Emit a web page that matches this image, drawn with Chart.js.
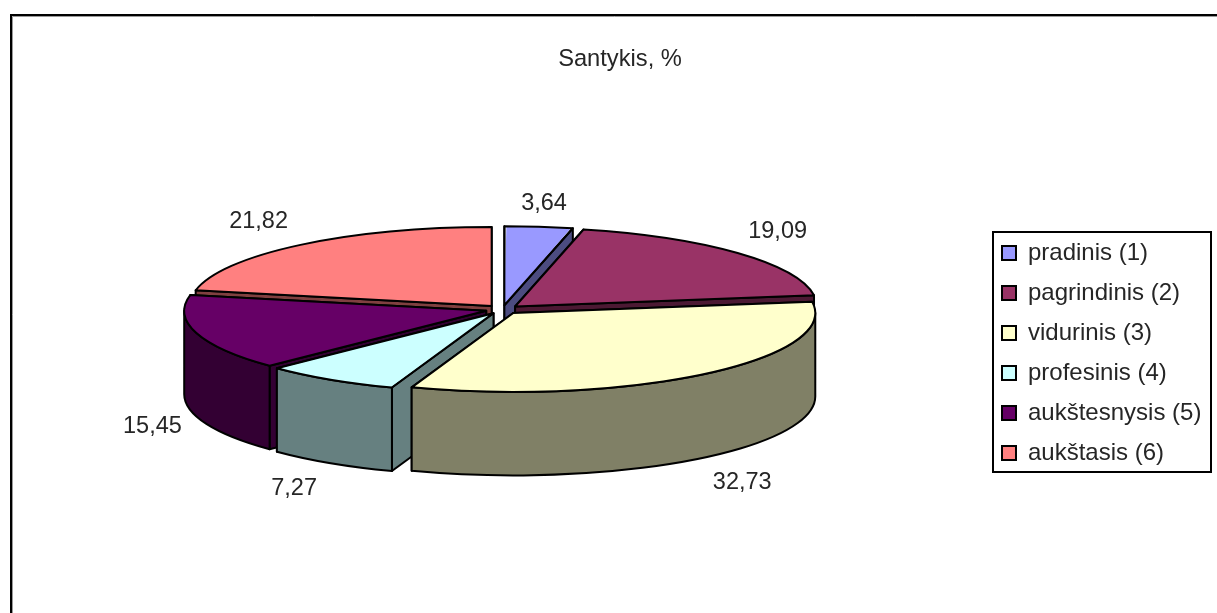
<!DOCTYPE html>
<html><head><meta charset="utf-8">
<style>html,body{margin:0;padding:0;background:#fff}canvas{display:block}</style>
<script src="https://cdn.jsdelivr.net/npm/chart.js@4/dist/chart.umd.js"></script>
</head><body>
<canvas id="c" width="1217" height="613"></canvas>
<script>
const titleText = 'Santykis, %';
const categories = ['pradinis (1)','pagrindinis (2)','vidurinis (3)','profesinis (4)','aukštesnysis (5)','aukštasis (6)'];
const values = [3.64,19.09,32.73,7.27,15.45,21.82];
const topColors = ['#9999FF','#993366','#FFFFCC','#CCFFFF','#660066','#FF8080'];
const sideColors = ['#4C4C80','#4C1933','#808066','#668080','#330033','#804040'];
const paintOrder = [5,0,1,4,3,2];

const FONT = 'Liberation Sans, Arial, sans-serif';
const TEXT = '#262626';
const VIEW = {cx:502.5, cy:309.5, rx:302, ry:79, depth:83.5};

function geometry(el){
  const off = el.options.offset/4;
  const fix = 1 - Math.sin(Math.min(Math.PI, el.circumference));
  const r = el.outerRadius + off*fix;
  const sx = VIEW.rx/r, sy = VIEW.ry/r;
  const mid = (el.startAngle+el.endAngle)/2;
  return {sx,sy,a:el.startAngle,b:el.endAngle,mid,
    ax:VIEW.cx+Math.cos(mid)*off*sx, ay:VIEW.cy+Math.sin(mid)*off*sy};
}
function paint(ctx,fill){ctx.fillStyle=fill;ctx.fill();ctx.stroke();}
function cutFace(ctx,g,t,fill){
  const ex=g.ax+VIEW.rx*Math.cos(t), ey=g.ay+VIEW.ry*Math.sin(t);
  ctx.beginPath();ctx.moveTo(g.ax,g.ay);ctx.lineTo(ex,ey);ctx.lineTo(ex,ey+VIEW.depth);ctx.lineTo(g.ax,g.ay+VIEW.depth);ctx.closePath();
  paint(ctx,fill);
}
function drawSlice(ctx,el,i){
  const g=geometry(el), fill=sideColors[i];
  ctx.save();
  ctx.lineWidth=2;ctx.strokeStyle='#000';ctx.lineJoin='round';
  const startFront=-Math.cos(g.a)>0, faces=startFront?[g.b,g.a]:[g.a,g.b];
  faces.forEach(t=>cutFace(ctx,g,t,fill));
  const lo=Math.max(g.a,0), hi=Math.min(g.b,Math.PI);
  if(lo<hi){
    ctx.beginPath();
    ctx.ellipse(g.ax,g.ay,VIEW.rx,VIEW.ry,0,lo,hi);
    ctx.ellipse(g.ax,g.ay+VIEW.depth,VIEW.rx,VIEW.ry,0,hi,lo,true);
    ctx.closePath();paint(ctx,fill);
  }
  ctx.save();
  ctx.translate(VIEW.cx,VIEW.cy);ctx.scale(g.sx,g.sy);ctx.translate(-el.x,-el.y);
  el.draw(ctx);
  ctx.restore();
  ctx.beginPath();ctx.moveTo(g.ax,g.ay);ctx.ellipse(g.ax,g.ay,VIEW.rx,VIEW.ry,0,g.a,g.b);ctx.closePath();ctx.stroke();
  ctx.restore();
}
function clamp(v){return Math.max(-1,Math.min(1,v));}
const pie3d={
  id:'pie3d',
  afterLayout(chart){
    const t=chart.titleBlock, l=chart.legend;
    t.left+=11.5;t.right+=11.5;
    const w=l.width,h=l.height;
    l.left=986;l.right=986+w;l.top=225;l.bottom=225+h;
  },
  beforeDraw(chart){
    const ctx=chart.ctx;
    ctx.save();
    ctx.fillStyle='#fff';ctx.fillRect(0,0,chart.width,chart.height);
    ctx.strokeStyle='#9a9a9a';ctx.lineWidth=1;
    ctx.beginPath();ctx.moveTo(12.5,chart.height);ctx.lineTo(12.5,16.5);ctx.lineTo(chart.width,16.5);ctx.stroke();
    ctx.strokeStyle='#000';ctx.lineWidth=2;
    ctx.beginPath();ctx.moveTo(11,chart.height);ctx.lineTo(11,15);ctx.lineTo(chart.width,15);ctx.stroke();
    ctx.restore();
  },
  beforeDatasetDraw(chart,args){
    const els=chart.getDatasetMeta(args.index).data;
    paintOrder.forEach(i=>drawSlice(chart.ctx,els[i],i));
    return false;
  },
  afterDatasetsDraw(chart){
    const ctx=chart.ctx, els=chart.getDatasetMeta(0).data;
    ctx.save();
    ctx.font='23.5px '+FONT;ctx.fillStyle=TEXT;ctx.textAlign='center';ctx.textBaseline='middle';
    els.forEach((el,i)=>{
      const g=geometry(el), dx=Math.cos(g.mid), dy=Math.sin(g.mid);
      const x=g.ax+VIEW.rx*dx+42*clamp(dx*1.5)-2;
      const y=g.ay+VIEW.ry*dy+(dy>0?VIEW.depth:0)+24*clamp(dy*1.4)+1;
      ctx.fillText(values[i].toFixed(2).replace('.',','),x,y);
    });
    ctx.restore();
  },
  afterDraw(chart){
    const ctx=chart.ctx;
    ctx.save();ctx.strokeStyle='#000';ctx.lineWidth=2;
    ctx.strokeRect(993,232,218,240);
    ctx.restore();
  }
};
new Chart(document.getElementById('c'),{
  type:'pie',
  data:{labels:categories,datasets:[{data:values,backgroundColor:topColors,borderWidth:0,offset:54}]},
  plugins:[pie3d],
  options:{
    responsive:false,animation:false,
    plugins:{
      tooltip:{enabled:false},
      title:{display:true,text:titleText,color:TEXT,font:{family:FONT,size:23.7,weight:'normal'},padding:{top:45,bottom:10}},
      legend:{position:'right',align:'start',
        labels:{color:TEXT,font:{family:FONT,size:24},boxWidth:14,boxHeight:14,padding:16,
          generateLabels(chart){
            return Chart.overrides.pie.plugins.legend.labels.generateLabels(chart).map(o=>Object.assign(o,{lineWidth:2,strokeStyle:'#000'}));
          }}}
    }
  }
});
</script>
</body></html>
